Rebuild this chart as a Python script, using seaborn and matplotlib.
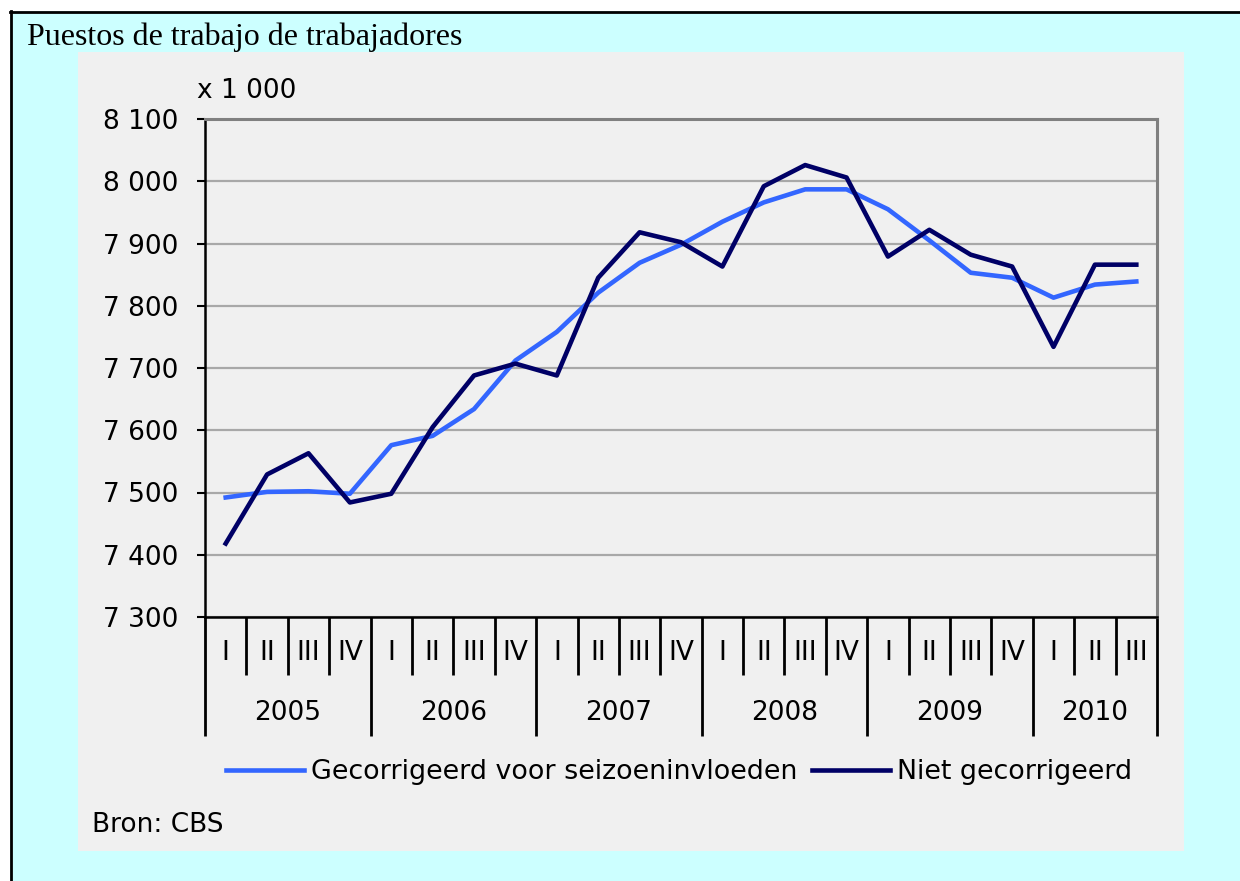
import matplotlib
matplotlib.use("Agg")
import matplotlib.pyplot as plt
import matplotlib.transforms as mtransforms
from matplotlib.patches import Rectangle
from matplotlib.lines import Line2D
import seaborn as sns
import pandas as pd

# ---- data ----
years = ["2005", "2006", "2007", "2008", "2009", "2010"]
quarters = ["I", "II", "III", "IV"]
quarters_per_year = [4, 4, 4, 4, 4, 3]
series_names = ["Gecorrigeerd voor seizoeninvloeden", "Niet gecorrigeerd"]
adjusted = [7492, 7501, 7502, 7498, 7576, 7591, 7634, 7712, 7758, 7821, 7869, 7898,
            7935, 7966, 7987, 7987, 7955, 7905, 7853, 7845, 7813, 7834, 7839]
unadjusted = [7418, 7529, 7563, 7484, 7498, 7605, 7688, 7707, 7688, 7845, 7918, 7902,
              7863, 7992, 8026, 8006, 7879, 7922, 7882, 7863, 7734, 7866, 7866]
yticks = [7300, 7400, 7500, 7600, 7700, 7800, 7900, 8000, 8100]
title = "Puestos de trabajo de trabajadores"
unit_label = "x 1 000"
source = "Bron: CBS"

colors = {series_names[0]: "#3366FF", series_names[1]: "#000066"}

cat_quarters = []
cat_years = []
for y, n in zip(years, quarters_per_year):
    for q in quarters[:n]:
        cat_quarters.append(q)
        cat_years.append(y)
idx = list(range(len(cat_quarters)))

df = pd.DataFrame({
    "idx": idx * 2,
    "value": adjusted + unadjusted,
    "series": [series_names[0]] * len(adjusted) + [series_names[1]] * len(unadjusted),
})

# ---- figure ----
W, H = 1240, 881
fig = plt.figure(figsize=(W / 100, H / 100), dpi=100)
fig.patch.set_facecolor("#CCFFFF")
plt.rcParams["font.family"] = ["DejaVu Sans"]
FS = 19
LW = 3.3

def fx(px):
    return px / W

def fy(py):
    return 1 - py / H

# white margins + black border
fig.add_artist(Rectangle((0, fy(11)), 1, 11 / H, transform=fig.transFigure,
                         facecolor="white", edgecolor="none", zorder=0))
fig.add_artist(Rectangle((0, 0), 10 / W, 1, transform=fig.transFigure,
                         facecolor="white", edgecolor="none", zorder=0))
fig.add_artist(Line2D([fx(10), 1], [fy(11.5), fy(11.5)], transform=fig.transFigure,
                      color="black", lw=2, zorder=1))
fig.add_artist(Line2D([fx(10.5), fx(10.5)], [0, fy(11)], transform=fig.transFigure,
                      color="black", lw=2, zorder=1))
# gray chart panel
fig.add_artist(Rectangle((fx(78), fy(851)), (1184 - 78) / W, (851 - 52) / H,
                         transform=fig.transFigure, facecolor="#F0F0F0",
                         edgecolor="none", zorder=0))

ax = fig.add_axes([fx(205), fy(617), (1157 - 205) / W, (617 - 119) / H])
ax.set_facecolor("#F0F0F0")

sns.lineplot(data=df, x="idx", y="value", hue="series", palette=colors,
             hue_order=series_names, lw=LW, legend=False, ax=ax)

ax.set_xlim(-0.5, len(idx) - 0.5)
ax.set_ylim(yticks[0], yticks[-1])
ax.set_yticks(yticks)
ax.set_yticklabels([f"{v:,}".replace(",", " ") for v in yticks], fontsize=FS,
                   family="DejaVu Sans")
ax.yaxis.grid(True, color="#A8A8A8", lw=1.6)
ax.set_axisbelow(True)
ax.set_xticks([])
ax.set_xlabel("")
ax.set_ylabel("")
ax.tick_params(axis="y", length=6, width=1.5, color="black", pad=13)

for s in ["left", "bottom"]:
    ax.spines[s].set_color("black")
    ax.spines[s].set_linewidth(1.8)
for s in ["top", "right"]:
    ax.spines[s].set_color("#808080")
    ax.spines[s].set_linewidth(2.2)

# category axis: separators and labels
trans = mtransforms.blended_transform_factory(ax.transData, ax.transAxes)
ax_h = 617 - 119
q_len = -(675 - 617) / ax_h
y_len = -(736 - 617) / ax_h
year_bounds = [0]
for n in quarters_per_year:
    year_bounds.append(year_bounds[-1] + n)
for k in range(len(idx) + 1):
    yb = y_len if k in year_bounds else q_len
    ax.plot([k - 0.5, k - 0.5], [0, yb], transform=trans, color="black",
            lw=2, clip_on=False, solid_capstyle="butt")
for i, q in zip(idx, cat_quarters):
    ax.text(i, -(653 - 617) / ax_h, q, transform=trans, ha="center", va="center",
            fontsize=FS)
for j, y in enumerate(years):
    c = (year_bounds[j] + year_bounds[j + 1] - 1) / 2
    ax.text(c, -(713 - 617) / ax_h, y, transform=trans, ha="center", va="center",
            fontsize=FS)

# texts
fig.text(fx(27), fy(37), title, family="Liberation Serif", fontsize=23,
         ha="left", va="center")
fig.text(fx(197), fy(91), unit_label, fontsize=FS, ha="left", va="center")
fig.text(fx(92), fy(825), source, fontsize=FS, ha="left", va="center")

handles = [Line2D([], [], color=colors[n], lw=LW) for n in series_names]
fig.legend(handles, series_names, loc="center left",
           bbox_to_anchor=(fx(226), fy(772)), ncol=2, frameon=False,
           fontsize=19.4, handlelength=2.9, handletextpad=0.25,
           columnspacing=0.55, borderpad=0, borderaxespad=0)

fig.savefig("out.png", dpi=100, facecolor=fig.get_facecolor())
